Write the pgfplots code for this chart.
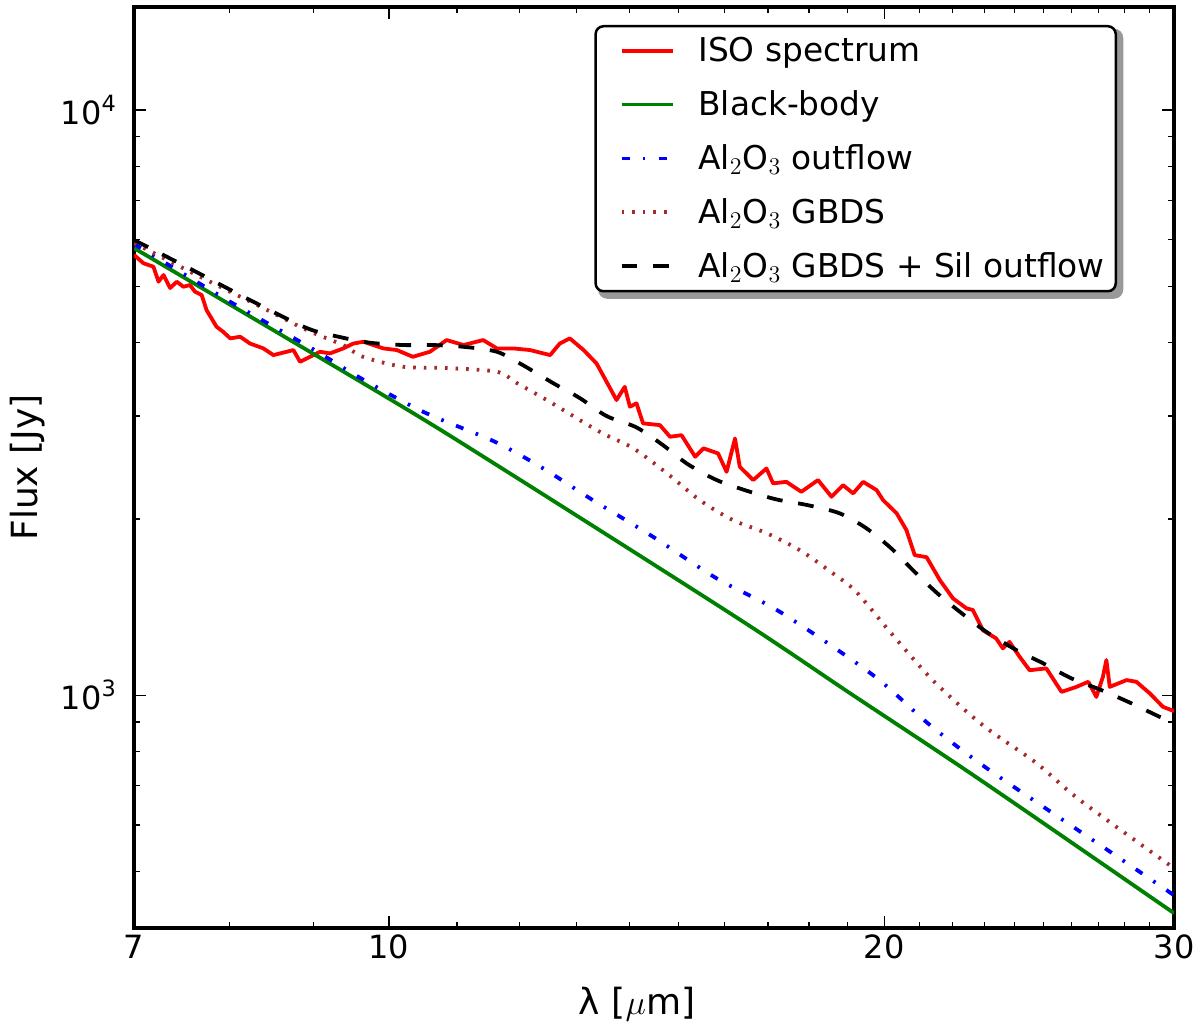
\documentclass[border=0pt]{standalone}
\usepackage{fontspec}
\setmainfont{DejaVu Sans}
\usepackage{pgfplots}
\pgfplotsset{compat=1.18}
\usetikzlibrary{backgrounds}
\definecolor{mplred}{RGB}{255,0,0}
\definecolor{mplgreen}{RGB}{0,128,0}
\definecolor{mplblue}{RGB}{0,0,255}
\definecolor{mplbrown}{RGB}{165,42,42}

\begin{document}
\begin{tikzpicture}
\begin{axis}[
  name=ax, at={(0,0)}, anchor=south west,
  scale only axis, width=520pt, height=460.5pt,
  xmode=log, ymode=log,
  xmin=7, xmax=30, ymin=400, ymax=15000,
  xtick={7,10,20,30}, xticklabels={7,10,20,30},
  minor xtick={8,9,11,12,13,14,15,16,17,18,19,21,22,23,24,25,26,27,28,29},
  ytick={1000,10000}, yticklabels={10\textsuperscript{3},10\textsuperscript{4}},
  minor ytick={500,600,700,800,900,2000,3000,4000,5000,6000,7000,8000,9000},
  tick align=inside,
  major tick length=6pt, minor tick length=3pt,
  tick style={black, line width=0.6pt},
  axis line style={line width=1.6pt},
  ticklabel style={font=\fontsize{16}{19}\selectfont},
  yticklabel style={xshift=-5pt},
  xlabel={λ [$\mu$m]}, ylabel={Flux [Jy]},
  label style={font=\fontsize{18}{21}\selectfont},
  xlabel style={at={(axis description cs:0.5,0)}, anchor=north, yshift=-26pt, xshift=-8.5pt},
  ylabel style={at={(axis description cs:-0.079,0.5)}, anchor=south},
  legend style={name=leg, at={(axis description cs:1,1)}, anchor=north east,
    xshift=-28.5pt, yshift=-9pt, draw=black, line width=1.25pt,
    rounded corners=4pt, fill=white, inner xsep=3.5pt, inner ysep=3.5pt,
    row sep=9pt, column sep=10pt, font=\fontsize{16.4}{19}\selectfont},
  legend cell align=left,
  legend image code/.code={\path (0pt,0pt); \draw[#1] (8.5pt,0pt) -- (34pt,0pt);},
]
% ISO spectrum
\addplot[mplred, line width=1.9pt, line join=round] table {
7.000 5653
7.094 5470
7.193 5398
7.244 5088
7.295 5224
7.363 4963
7.432 5088
7.501 4988
7.571 5022
7.624 4891
7.696 4828
7.748 4550
7.857 4262
7.930 4179
8.008 4071
8.121 4097
8.234 3989
8.389 3914
8.507 3812
8.668 3863
8.748 3889
8.831 3713
8.954 3787
9.080 3863
9.208 3838
9.381 3914
9.513 3989
9.647 4017
9.783 3966
9.921 3914
10.11 3889
10.34 3787
10.59 3863
10.84 4044
11.10 3966
11.41 4044
11.63 3914
11.90 3914
12.18 3889
12.53 3812
12.70 3989
12.88 4071
13.13 3889
13.37 3690
13.56 3432
13.75 3194
13.91 3365
14.01 3111
14.14 3153
14.27 2914
14.61 2894
14.82 2764
15.06 2782
15.35 2555
15.53 2641
15.85 2589
16.04 2408
16.23 2746
16.34 2456
16.65 2331
16.96 2440
17.12 2301
17.44 2315
17.81 2226
18.23 2331
18.58 2183
18.88 2285
19.15 2212
19.42 2315
19.79 2241
19.97 2154
20.35 2045
20.63 1915
20.87 1735
21.22 1721
21.62 1572
22.02 1463
22.44 1407
22.64 1398
22.96 1291
23.39 1250
23.61 1202
23.83 1233
24.17 1163
24.51 1103
25.09 1111
25.63 1013
26.17 1033
26.61 1054
26.91 993
27.16 1075
27.29 1148
27.42 1033
28.07 1061
28.46 1054
29.00 1007
29.54 955
30.00 939
};
\addlegendentry{ISO spectrum}
% black body
\addplot[mplgreen, line width=1.9pt, smooth] table {
7.000 5808
10.00 3212
11.68 2453
16.29 1354
19.06 1008
22.80 721
30.00 424
};
\addlegendentry{Black-body}
% Al2O3 outflow
\addplot[mplblue, line width=1.9pt, smooth,
  dash pattern=on 4pt off 6.6pt on 1.3pt off 6.6pt] table {
7.000 5903
8.008 4701
8.977 3914
9.580 3500
10.49 3050
11.60 2710
12.41 2440
13.25 2169
14.47 1865
15.82 1583
17.32 1383
19.69 1082
21.32 889
23.18 744
27.54 536
30.00 455
};
\addlegendentry{Al$_2$O$_3$ outflow}
% Al2O3 GBDS
\addplot[mplbrown, line width=1.9pt, smooth,
  dash pattern=on 1.3pt off 4pt] table {
7.000 5926
7.748 5122
8.389 4586
8.913 4207
9.377 3966
9.643 3787
10.20 3641
10.84 3622
11.63 3570
11.96 3415
12.47 3194
13.43 2819
14.07 2644
14.75 2396
15.45 2154
16.18 1992
16.96 1892
17.77 1769
18.61 1616
19.23 1502
20.16 1283
21.40 1061
22.95 889
24.75 765
26.29 662
30.00 506
};
\addlegendentry{Al$_2$O$_3$ GBDS}
% Al2O3 GBDS + silicate outflow
\addplot[black, line width=1.9pt, smooth,
  dash pattern=on 7.9pt off 7.9pt] table {
7.000 5997
7.601 5325
8.234 4733
8.913 4240
9.338 4092
9.739 4002
10.20 3966
10.63 3966
11.09 3940
11.63 3863
12.06 3665
12.58 3415
13.06 3219
13.56 2999
14.14 2868
14.67 2676
15.19 2482
15.82 2331
16.50 2235
17.20 2160
17.97 2112
18.79 2045
19.51 1928
20.20 1781
20.87 1624
21.57 1488
22.29 1380
23.07 1283
24.06 1194
24.97 1134
25.99 1068
27.10 1020
28.27 968
29.41 918
30.00 899
};
\addlegendentry{Al$_2$O$_3$ GBDS + Sil outflow}
\end{axis}
% legend shadow, under the legend box
\begin{scope}[on background layer]
\draw[black!40, fill=black!40, line width=1.25pt, rounded corners=4pt]
  ([xshift=2.5pt,yshift=-2.5pt]leg.south west) rectangle ([xshift=2.5pt,yshift=-2.5pt]leg.north east);
\end{scope}
\pgfresetboundingbox
\path (-67pt,-52pt) rectangle (533pt,464pt);
\end{tikzpicture}
\end{document}
